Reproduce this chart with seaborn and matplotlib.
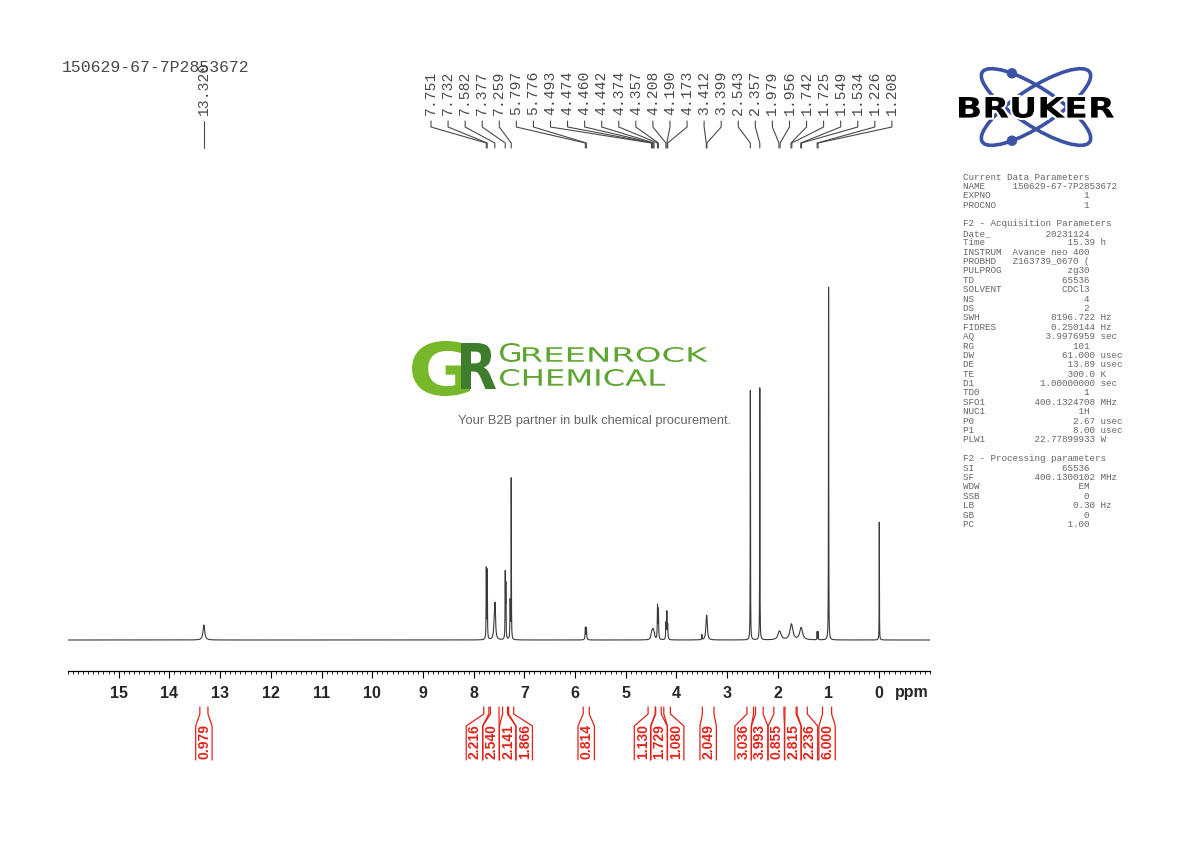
#Libraries
import numpy as np
import pandas as pd
import matplotlib
matplotlib.use('Agg')
import matplotlib.pyplot as plt
import seaborn as sns
from matplotlib.ticker import MultipleLocator
from matplotlib.textpath import TextPath
from matplotlib.font_manager import FontProperties
from matplotlib.patches import PathPatch, Ellipse, Circle
from matplotlib.transforms import Affine2D
import matplotlib.patheffects as pe

sns.set_theme(style='ticks')
plt.rcParams['font.family'] = ['DejaVu Sans']

#Data
sample_name = '150629-67-7P2853672'

peak_ppm = [13.32, 7.751, 7.732, 7.592, 7.577, 7.377, 7.365, 7.28, 7.259, 5.797, 5.776,
            4.493, 4.474, 4.460, 4.442, 4.374, 4.357, 4.208, 4.190, 4.173, 3.50, 3.412, 3.399,
            2.543, 2.357, 1.979, 1.956, 1.742, 1.725, 1.549, 1.534, 1.226, 1.208, 1.000, 0.000]
peak_height = [15, 70, 68, 16, 30, 64, 52, 38, 160, 12, 12,
               5.5, 5.5, 5.5, 5.5, 33, 29, 16, 27, 14, 5, 16, 16,
               250, 252, 5, 5, 8.5, 8.5, 6.5, 6.5, 8, 8, 353, 118]
peak_width = [0.02, 0.004, 0.004, 0.014, 0.011, 0.004, 0.004, 0.005, 0.003, 0.006, 0.006,
              0.014, 0.014, 0.014, 0.014, 0.005, 0.005, 0.005, 0.005, 0.005, 0.004, 0.012, 0.012,
              0.003, 0.003, 0.03, 0.03, 0.03, 0.03, 0.03, 0.03, 0.003, 0.003, 0.003, 0.0025]

label_ppm = [7.751, 7.732, 7.582, 7.377, 7.259, 5.797, 5.776, 4.493, 4.474, 4.460, 4.442,
             4.374, 4.357, 4.208, 4.190, 4.173, 3.412, 3.399, 2.543, 2.357, 1.979, 1.956,
             1.742, 1.725, 1.549, 1.534, 1.226, 1.208]
solo_label_ppm = 13.320

integral_value = [0.979, 2.216, 2.540, 2.141, 1.866, 0.814, 1.130, 1.729, 1.080, 2.049,
                  3.036, 3.993, 0.855, 2.815, 2.236, 6.000]
integral_from = [13.40, 7.80, 7.67, 7.43, 7.31, 5.84, 4.56, 4.41, 4.25, 3.49,
                 2.61, 2.44, 2.08, 1.86, 1.62, 1.12]
integral_to = [13.24, 7.70, 7.50, 7.33, 7.21, 5.72, 4.42, 4.30, 4.12, 3.26,
               2.48, 2.29, 1.88, 1.64, 1.42, 0.94]

params_current = [('NAME', sample_name, ''), ('EXPNO', '1', ''), ('PROCNO', '1', '')]
params_acq = [('Date_', '20231124', ''), ('Time', '15.39', 'h'), ('INSTRUM', 'Avance neo 400', ''),
              ('PROBHD', 'Z163739_0670 (', ''), ('PULPROG', 'zg30', ''), ('TD', '65536', ''),
              ('SOLVENT', 'CDCl3', ''), ('NS', '4', ''), ('DS', '2', ''),
              ('SWH', '8196.722', 'Hz'), ('FIDRES', '0.250144', 'Hz'), ('AQ', '3.9976959', 'sec'),
              ('RG', '101', ''), ('DW', '61.000', 'usec'), ('DE', '13.89', 'usec'),
              ('TE', '300.0', 'K'), ('D1', '1.00000000', 'sec'), ('TD0', '1', ''),
              ('SFO1', '400.1324708', 'MHz'), ('NUC1', '1H', ''), ('P0', '2.67', 'usec'),
              ('P1', '8.00', 'usec'), ('PLW1', '22.77899933', 'W')]
params_proc = [('SI', '65536', ''), ('SF', '400.1300102', 'MHz'), ('WDW', 'EM', ''),
               ('SSB', '0', ''), ('LB', '0.30', 'Hz'), ('GB', '0', ''), ('PC', '1.00', '')]

#Build the spectrum from the peak list
ppm = np.linspace(16, -1, 60000)
intensity = np.zeros_like(ppm)
for p, h, w in zip(peak_ppm, peak_height, peak_width):
    intensity += h * w**2 / ((ppm - p)**2 + w**2)
spec = pd.DataFrame({'ppm': ppm, 'intensity': intensity})

W, H = 1190, 842
AX_L, AX_R, AX_B, AX_T = 68, 930, 671, 270
XMAX, XMIN = 16, -1

def ppm_px(p):
    return AX_L + (XMAX - p) / (XMAX - XMIN) * (AX_R - AX_L)

fig = plt.figure(figsize=(W/100, H/100), dpi=100)
ax = fig.add_axes([AX_L/W, 1 - AX_B/H, (AX_R-AX_L)/W, (AX_B-AX_T)/H])
sns.lineplot(data=spec, x='ppm', y='intensity', ax=ax, color='#3a3a3a',
             linewidth=0.8, estimator=None, sort=False)
ax.set_xlim(XMAX, XMIN)
ax.set_ylim(-31, AX_B - AX_T - 31)
ax.set_yticks([])
ax.set_xlabel('')
ax.set_ylabel('')
for s in ['top', 'left', 'right']:
    ax.spines[s].set_visible(False)
ax.spines['bottom'].set_color('black')
ax.spines['bottom'].set_linewidth(0.9)
ticks = np.arange(0, 16)
ax.set_xticks(ticks)
ax.set_xticklabels([str(t) for t in ticks])
ax.xaxis.set_minor_locator(MultipleLocator(0.1))
ax.tick_params(axis='x', which='major', length=5, width=0.8, color='black', pad=6)
ax.tick_params(axis='x', which='minor', length=2.5, width=0.6, color='black')
narrow = ['Liberation Sans Narrow', 'Liberation Sans', 'DejaVu Sans']
for lab in ax.get_xticklabels():
    lab.set_fontweight('bold')
    lab.set_fontsize(11.5)
    lab.set_family(narrow)

#Overlay in pixel coordinates for annotations
ov = fig.add_axes([0, 0, 1, 1], zorder=5)
ov.set_xlim(0, W)
ov.set_ylim(H, 0)
ov.axis('off')
ov.patch.set_alpha(0)

ov.text(895, 693, 'ppm', fontsize=11.5, fontweight='bold', family=narrow, va='center', ha='left')

grey = '#4a4a4a'
mono = ['Liberation Mono', 'DejaVu Sans Mono']
ov.text(62, 68, sample_name, fontsize=11.9, family=mono, color=grey, va='center', ha='left')

#Peak labels on top
label_x0, label_dx = 431, 17.07
for i, p in enumerate(label_ppm):
    lx = label_x0 + i * label_dx
    px = ppm_px(p)
    ov.plot([lx, lx, px, px], [121, 127, 143, 148], color=grey, lw=0.8)
    ov.text(lx, 115, f'{p:.3f}', rotation=90, ha='center', va='bottom',
            fontsize=10.6, family=mono, color=grey)
sx = ppm_px(solo_label_ppm)
ov.plot([sx, sx], [121, 148], color=grey, lw=0.8)
ov.text(sx, 115, f'{solo_label_ppm:.3f}', rotation=90, ha='center', va='bottom',
        fontsize=10.6, family=mono, color=grey)

#Integral labels, spread so they do not overlap
def spread(xs, gap):
    groups = [[x] for x in xs]
    merged = True
    while merged:
        merged = False
        for i in range(len(groups) - 1):
            g1, g2 = groups[i], groups[i + 1]
            r1 = np.mean(g1) + (len(g1) - 1) / 2 * gap
            l2 = np.mean(g2) - (len(g2) - 1) / 2 * gap
            if l2 - r1 < gap:
                groups[i] = g1 + g2
                del groups[i + 1]
                merged = True
                break
    out = []
    for g in groups:
        c = np.mean(g)
        out += [c + (k - (len(g) - 1) / 2) * gap for k in range(len(g))]
    return out

red = '#e2231a'
mids = [ppm_px((a + b) / 2) for a, b in zip(integral_from, integral_to)]
centers = spread(mids, 16.6)
half = 8.2
for v, a, b, c in zip(integral_value, integral_from, integral_to, centers):
    xa, xb = ppm_px(a), ppm_px(b)
    ov.plot([xa, xa, c - half, c - half], [707, 714, 726, 760], color=red, lw=0.9)
    ov.plot([xb, xb, c + half, c + half], [707, 714, 726, 760], color=red, lw=0.9)
    ov.text(c + 0.5, 759, f'{v:.3f}', rotation=90, ha='center', va='bottom',
            fontsize=10, fontweight='bold', family=narrow, color=red)

#Parameter block
lines = ['Current Data Parameters']
def fmt(lab, val, unit):
    if lab == 'NAME':
        return f'{lab:<9}{val}'
    if unit:
        return f'{lab:<8}{val:>16} {unit}'
    return f'{lab:<8}{val:>15}'
lines += [fmt(*p) for p in params_current]
lines += ['', 'F2 - Acquisition Parameters']
lines += [fmt(*p) for p in params_acq]
lines += ['', 'F2 - Processing parameters']
lines += [fmt(*p) for p in params_proc]
for n, line in enumerate(lines):
    ov.text(963, 177 + 9.39 * n, line, fontsize=6.7, family=mono, color='#666666',
            va='center', ha='left')

#Stretched lettering for logos
def fit_text(s, x0, y0, x1, y1, color, weight='bold', family='DejaVu Sans', effects=None, z=6):
    tp = TextPath((0, 0), s, size=100, prop=FontProperties(family=family, weight=weight))
    bb = tp.get_extents()
    tr = Affine2D().translate(-bb.x0, -bb.y0).scale((x1 - x0) / bb.width,
                                                      -(y1 - y0) / bb.height).translate(x0, y1)
    patch = PathPatch(tr.transform_path(tp), facecolor=color, edgecolor='none',
                      transform=ov.transData, zorder=z)
    if effects:
        patch.set_path_effects(effects)
    ov.add_patch(patch)

#Bruker logo
blue = '#3b52a6'
cx, cy, ea, eb, eang = 1036, 107, 64, 19, 33
t = np.linspace(0, 2 * np.pi, 721)
for sgn in [1, -1]:
    ov.add_patch(Ellipse((cx, cy), 2 * ea, 2 * eb, angle=sgn * eang, fill=False,
                         ec=blue, lw=2.6, zorder=5))
    th = np.deg2rad(sgn * eang)
    ex = cx + ea * np.cos(t) * np.cos(th) - eb * np.sin(t) * np.sin(th)
    ey = cy + ea * np.cos(t) * np.sin(th) + eb * np.sin(t) * np.cos(th)
    side = (ey < cy) if sgn > 0 else (ey > cy)
    k = np.argmin(np.where(side, np.abs(ex - 1012), 1e9))
    ov.add_patch(Circle((ex[k], ey[k]), 4.5, color=blue, zorder=5))
fit_text('BRUKER', 959, 97, 1114, 118, 'black', weight='bold',
         effects=[pe.withStroke(linewidth=3, foreground='white')], z=7)

#Watermark
fit_text('G', 412, 341, 470, 396, '#76b82a', weight='bold')
fit_text('R', 461, 343, 496, 389, '#3e7d2c', weight='bold')
fit_text('G', 500, 343, 520, 362, '#5ea531', weight='normal')
fit_text('REENROCK', 523, 347, 708, 362, '#5ea531', weight='normal')
fit_text('CHEMICAL', 500, 369, 665, 386, '#5ea531', weight='normal')
ov.text(594.5, 421, 'Your B2B partner in bulk chemical procurement.', fontsize=9.3,
        family=['Liberation Sans', 'DejaVu Sans'], color='#666666', ha='center', va='center')

fig.savefig('out.png', dpi=100, facecolor='white')
